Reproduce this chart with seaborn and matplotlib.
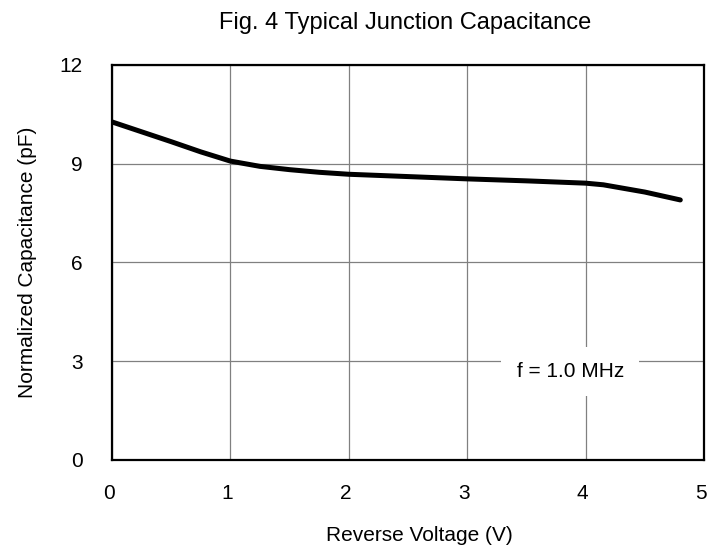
import numpy as np
import pandas as pd
import matplotlib
matplotlib.use('Agg')
import matplotlib.pyplot as plt
import matplotlib.transforms as mtransforms
import seaborn as sns

# curve values
voltage = [0.0, 0.25, 0.5, 0.75, 1.0, 1.25, 1.5, 1.75, 2.0, 2.5, 3.0, 3.5, 4.0, 4.15, 4.5, 4.8]
capacitance = [10.27, 9.97, 9.67, 9.36, 9.08, 8.92, 8.82, 8.74, 8.68, 8.61, 8.54, 8.48, 8.41, 8.36, 8.14, 7.9]
x_ticks = [0, 1, 2, 3, 4, 5]
y_ticks = [0, 3, 6, 9, 12]

df = pd.DataFrame({'Voltage': voltage, 'Capacitance': capacitance})

sns.set_style('white', {'text.color': 'black', 'axes.labelcolor': 'black',
                        'xtick.color': 'black', 'ytick.color': 'black'})
plt.rcParams['font.family'] = ['Liberation Sans', 'DejaVu Sans']

fig = plt.figure(figsize=(7.25, 5.54), dpi=100)
ax = fig.add_axes([0.1545, 0.1697, 0.8165, 0.713])

sns.lineplot(data=df, x='Voltage', y='Capacitance', ax=ax,
             color='black', linewidth=3.6, solid_capstyle='round', zorder=3)

ax.set_xlim(0, 5)
ax.set_ylim(0, 12)
ax.set_xticks(x_ticks)
ax.set_yticks(y_ticks)
ax.grid(True, color='#808080', linewidth=0.9)
ax.tick_params(axis='x', labelsize=15, length=0, pad=17, labelcolor='black')
ax.tick_params(axis='y', labelsize=15, length=0, pad=21, labelcolor='black')
for sp in ax.spines.values():
    sp.set_visible(True)
    sp.set_color('black')
    sp.set_linewidth(1.6)

# x tick labels sit a little left of their gridlines in the original
shift = mtransforms.ScaledTranslation(-0.03, 0, fig.dpi_scale_trans)
for lab in ax.get_xticklabels():
    lab.set_transform(lab.get_transform() + shift)

ax.set_xlabel('Reverse Voltage (V)', fontsize=15, color='black')
ax.xaxis.set_label_coords(0.519, -0.19)
ax.xaxis.label.set_va('center')
ax.set_ylabel('Normalized Capacitance (pF)', fontsize=15, labelpad=16, color='black')
fig.text(0.559, 0.948, 'Fig. 4 Typical Junction Capacitance', ha='center', va='baseline',
         fontsize=17, color='black')

ax.text(3.87, 2.52, 'f = 1.0 MHz', ha='center', va='baseline', fontsize=15, zorder=4,
        color='black', bbox=dict(facecolor='white', edgecolor='none', pad=11))

plt.savefig('out.png', dpi=100)
